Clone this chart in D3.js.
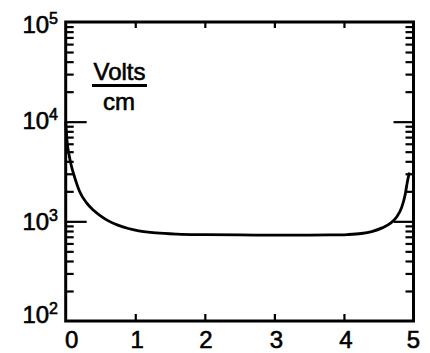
<!DOCTYPE html>
<html>
<head>
<meta charset="utf-8">
<script src="https://cdn.jsdelivr.net/npm/d3@7/dist/d3.min.js"></script>
<style>
  html, body { margin: 0; padding: 0; background: #fff; }
  svg { display: block; }
  text { font-family: "Liberation Sans", Arial, Helvetica, sans-serif; fill: #000; stroke: #000; stroke-width: 0.6px; }
</style>
</head>
<body>
<svg id="chart" width="430" height="353"></svg>
<script>
// ---- data ----
const positions = [0, 0.02, 0.05, 0.08, 0.13, 0.2, 0.3, 0.4, 0.5, 0.6, 0.75, 0.9, 1.05, 1.3, 1.6, 2.0, 2.5, 3.0, 3.5, 3.8, 4.05, 4.25, 4.4, 4.55, 4.67, 4.76, 4.83, 4.88, 4.91, 4.94];
const fieldValues = [10000, 6300, 4570, 3630, 2750, 1995, 1530, 1290, 1135, 1023, 916, 847, 804, 766, 745, 735, 730, 728, 728, 730, 737, 755, 790, 860, 960, 1110, 1380, 1850, 2450, 3090];
const xTickValues = [0, 1, 2, 3, 4, 5];
const xTickLabels = ["0", "1", "2", "3", "4", "5"];
const yDecadeExponents = [2, 3, 4, 5];
const unitTop = "Volts";
const unitBottom = "cm";

// ---- layout ----
const svg = d3.select("#chart");
const mLeft = 65.7, mRight = 413.5, mTop = 22, mBottom = 321;

const x = d3.scaleLinear().domain([0, 5]).range([mLeft, mRight]);
const y = d3.scaleLog().domain([100, 100000]).range([mBottom, mTop]);

const minorY = [];
for (let e = 2; e < 5; e++) for (let m = 2; m <= 9; m++) minorY.push(m * Math.pow(10, e));

const axisStroke = 3;

function styleAxis(g) {
  g.select(".domain").remove();
  g.selectAll(".tick line").attr("stroke", "#000").attr("stroke-width", 2.2);
  g.selectAll(".tick text").remove();
}

// minor y ticks left & right (pointing inward)
svg.append("g").attr("transform", `translate(${mLeft},0)`)
  .call(d3.axisLeft(y).tickValues(minorY).tickSize(-8)).call(styleAxis);
svg.append("g").attr("transform", `translate(${mRight},0)`)
  .call(d3.axisRight(y).tickValues(minorY).tickSize(-8)).call(styleAxis);
// major y ticks (interior decades)
svg.append("g").attr("transform", `translate(${mLeft},0)`)
  .call(d3.axisLeft(y).tickValues([1000, 10000]).tickSize(-21)).call(styleAxis);
svg.append("g").attr("transform", `translate(${mRight},0)`)
  .call(d3.axisRight(y).tickValues([1000, 10000]).tickSize(-20)).call(styleAxis);
// x ticks
svg.append("g").attr("transform", `translate(0,${mBottom})`)
  .call(d3.axisBottom(x).tickValues([1, 2, 3, 4]).tickSize(-7)).call(styleAxis);
svg.append("g").attr("transform", `translate(0,${mTop})`)
  .call(d3.axisTop(x).tickValues([1, 2, 3, 4]).tickSize(-6)).call(styleAxis);

// frame
svg.append("rect")
  .attr("x", mLeft).attr("y", mTop)
  .attr("width", mRight - mLeft).attr("height", mBottom - mTop)
  .attr("fill", "none").attr("stroke", "#000").attr("stroke-width", axisStroke);

// curve
const line = d3.line()
  .x((d, i) => x(positions[i]))
  .y(d => y(d))
  .curve(d3.curveMonotoneX);
svg.append("path")
  .datum(fieldValues)
  .attr("d", line)
  .attr("fill", "none")
  .attr("stroke", "#000")
  .attr("stroke-width", 2.8);

// x labels
const xLabelShift = [6, 2, 1, 2, 2, 0];
svg.append("g").selectAll("text")
  .data(xTickValues)
  .join("text")
  .attr("x", (d, i) => x(d) + xLabelShift[i])
  .attr("y", 348)
  .attr("text-anchor", "middle")
  .attr("font-size", 24)
  .text((d, i) => xTickLabels[i]);

// y labels with superscripts
const yBaseShift = { 2: 2, 3: 9, 4: 7, 5: 11 };
const yl = svg.append("g").selectAll("text")
  .data(yDecadeExponents)
  .join("text")
  .attr("x", 58)
  .attr("y", d => y(Math.pow(10, d)) + yBaseShift[d])
  .attr("text-anchor", "end")
  .attr("font-size", 24);
yl.append("tspan").text("10");
yl.append("tspan")
  .attr("font-size", 16)
  .attr("dy", -9)
  .text(d => String(d));

// unit label
svg.append("text")
  .attr("x", 119.5).attr("y", 80)
  .attr("text-anchor", "middle")
  .attr("font-size", 24)
  .text(unitTop);
svg.append("line")
  .attr("x1", 92).attr("x2", 147)
  .attr("y1", 85.5).attr("y2", 85.5)
  .attr("stroke", "#000").attr("stroke-width", 2.8);
svg.append("text")
  .attr("x", 119).attr("y", 110)
  .attr("text-anchor", "middle")
  .attr("font-size", 24)
  .text(unitBottom);
</script>
</body>
</html>
